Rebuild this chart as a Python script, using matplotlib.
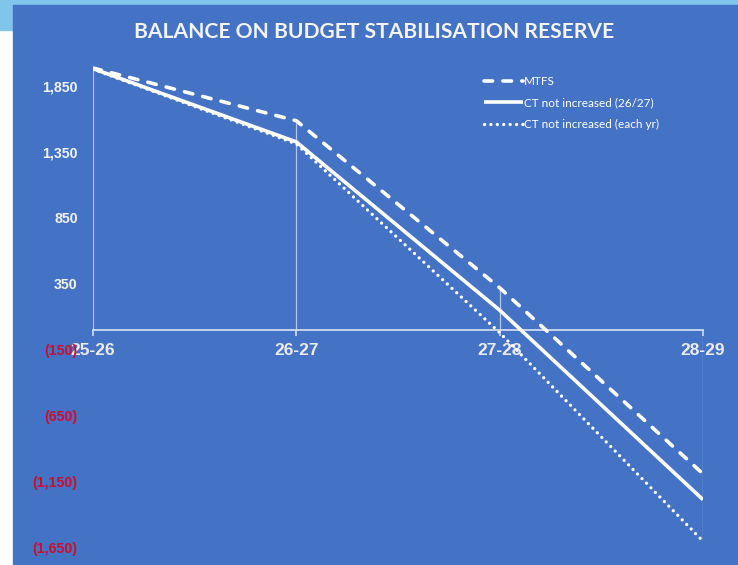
import matplotlib.pyplot as plt
from matplotlib.patches import Rectangle
from matplotlib.ticker import FuncFormatter

plt.rcParams['lines.scale_dashes'] = False

# data
years = ['25-26', '26-27', '27-28', '28-29']
mtfs = [1985, 1585, 320, -1090]
ct_26_27 = [1980, 1425, 150, -1285]
ct_each_yr = [1975, 1410, -20, -1600]
y_ticks = [1850, 1350, 850, 350, -150, -650, -1150, -1650]

BLUE = '#4472C4'
LIGHT = '#F2F2F2'
RED = '#C8102E'
DROP = '#B4C7E7'

fig = plt.figure(figsize=(7.38, 5.65), dpi=100)
fig.patch.set_facecolor('white')
W, H = 738, 565
# slide background pieces
fig.patches.append(Rectangle((0, 1 - 30 / H), 1, 30 / H, transform=fig.transFigure,
                             color='#7FC6EA', zorder=-3))
fig.patches.append(Rectangle((13 / W, 0), 1 - 13 / W, 1 - 5 / H, transform=fig.transFigure,
                             color=BLUE, zorder=-2))

ax = fig.add_axes([93 / W, 0.01876, 610 / W, 0.8761])
ax.set_facecolor('none')
x = list(range(len(years)))

# drop lines
for i in x:
    vals = [mtfs[i], ct_26_27[i], ct_each_yr[i]]
    ext = max(vals) if max(vals) > 0 else min(vals)
    ax.vlines(i, 0, ext, color=DROP, lw=0.9, zorder=1)

l1, = ax.plot(x, mtfs, color='white', lw=2.6, dash_capstyle='round', label='MTFS', zorder=3)
l1.set_dashes((6.2, 7.4))
l2, = ax.plot(x, ct_26_27, color='white', lw=2.6, solid_capstyle='butt',
              label='CT not increased (26/27)', zorder=4)
l3, = ax.plot(x, ct_each_yr, color='white', lw=2.4, dash_capstyle='round',
              label='CT not increased (each yr)', zorder=2)
l3.set_dashes((0.01, 4.6))

ax.set_xlim(0, 3)
ax.set_ylim(-1700, 2050)

for s in ['top', 'right', 'left']:
    ax.spines[s].set_visible(False)
ax.spines['bottom'].set_position(('data', 0))
ax.spines['bottom'].set_color('#D0DCF0')
ax.spines['bottom'].set_linewidth(1.3)

ax.set_xticks(x)
ax.set_xticklabels(years)
ax.tick_params(axis='x', colors='#D0DCF0', length=4, width=1.2, pad=5)
for t in ax.get_xticklabels():
    t.set_color('#EBEBEB')
    t.set_fontweight('bold')
    t.set_fontsize(12.5)
    t.set_family('Liberation Sans')

ax.set_yticks(y_ticks)
ax.yaxis.set_major_formatter(FuncFormatter(
    lambda v, p: f'{v:,.0f}' if v >= 0 else f'({-v:,.0f})'))
ax.tick_params(axis='y', length=0, pad=11)
for t, v in zip(ax.get_yticklabels(), y_ticks):
    t.set_color(LIGHT if v >= 0 else RED)
    t.set_fontweight('bold')
    t.set_fontsize(10.2)
    t.set_family('Liberation Sans')

fig.text(374 / W, 1 - 32 / H, 'BALANCE ON BUDGET STABILISATION RESERVE', ha='center', va='center',
         color='#F4F4F4', fontsize=15.1, fontweight='bold', family='Lato')

leg = ax.legend(loc='upper left', bbox_to_anchor=(478 / W, 1 - 70 / H),
                bbox_transform=fig.transFigure, frameon=False, borderpad=0,
                handlelength=3.3, handletextpad=0.1, labelspacing=0.9,
                prop={'family': 'Lato', 'size': 8.5})
for t in leg.get_texts():
    t.set_color('white')

fig.savefig('out.png', dpi=100)
